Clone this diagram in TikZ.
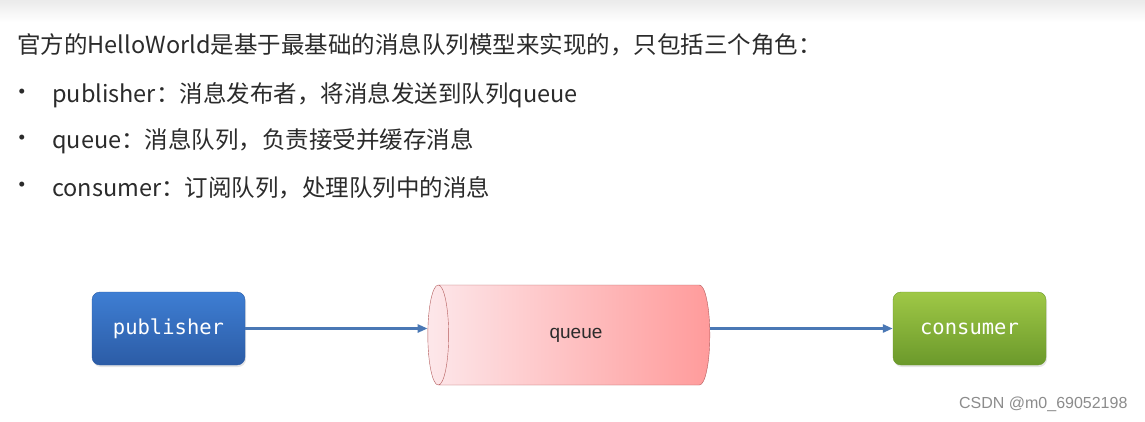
\documentclass[tikz,border=0pt]{standalone}
\usepackage{fontspec}
\usepackage{xcolor}
\usetikzlibrary{arrows.meta, shapes.geometric, shadows}
\newfontfamily\cjk{Noto Sans CJK SC}
\newfontfamily\boxmono{DejaVu Sans Mono}
\newfontfamily\markfont{Liberation Sans}
\definecolor{ink}{HTML}{2B2B2B}
\definecolor{pub-top}{HTML}{3E7ED3}
\definecolor{pub-bottom}{HTML}{2C5CA6}
\definecolor{con-top}{HTML}{9FC846}
\definecolor{con-bottom}{HTML}{6B992B}
\definecolor{queue-left}{HTML}{FDE7EA}
\definecolor{queue-right}{HTML}{FF9B9B}
\definecolor{queue-edge}{HTML}{B35A5A}
\definecolor{link}{HTML}{4A78B5}

\tikzset{
  rolebox/.style={rounded corners=8pt, minimum width=153pt, minimum height=73pt,
    text=white, font=\boxmono\fontsize{20.5}{24}\selectfont,
    drop shadow={opacity=0.2, shadow xshift=1pt, shadow yshift=-2pt}},
  line/.style={cjk, anchor=west, text=ink, inner sep=0pt},
  cjk/.style={font=\cjk\fontsize{23.5}{28}\selectfont},
  link/.style={-{Triangle[length=10pt, width=8pt]}, line width=2.6pt, color=link}
}

\begin{document}
\begin{tikzpicture}[x=1pt, y=-1pt]
    \useasboundingbox (0,0) rectangle (1145,421);
    \fill[white] (0,0) rectangle (1145,421);
    \shade[top color=black!8, bottom color=white] (0,0) rectangle (1145,22);
    % text
    \node[line] (intro) at (17,45) {官方的HelloWorld是基于最基础的消息队列模型来实现的，只包括三个角色：};
    \node[line] (dot1) at (10,95) {•};
    \node[line] (pub-txt) at (52,95) {publisher：消息发布者，将消息发送到队列queue};
    \node[line] (dot2) at (10,141) {•};
    \node[line] (queue-txt) at (52,141) {queue：消息队列，负责接受并缓存消息};
    \node[line] (dot3) at (10,188) {•};
    \node[line] (con-txt) at (52,188) {consumer：订阅队列，处理队列中的消息};
    % model
    \node[rolebox, top color=pub-top, bottom color=pub-bottom, draw=pub-bottom] (publisher) at (168.5,328.5) {publisher};
    \node[cylinder, shape border rotate=180, aspect=1, minimum width=100pt, minimum height=282pt,
      draw=queue-edge, left color=queue-left, right color=queue-right,
      font=\markfont\fontsize{19}{22}\selectfont, text=ink] (queue) at (576,335) {queue};
    \node[rolebox, top color=con-top, bottom color=con-bottom, draw=con-bottom] (consumer) at (969.5,328.5) {consumer};
    \draw[link] (publisher.east) -- (publisher.east -| queue.west);
    \draw[link] (queue.east |- consumer.west) -- (consumer.west);
    \node[anchor=east, text=black!45, font=\markfont\fontsize{16}{18}\selectfont] (mark) at (1131,404) {CSDN @m0\_69052198};
  \end{tikzpicture}
\end{document}
